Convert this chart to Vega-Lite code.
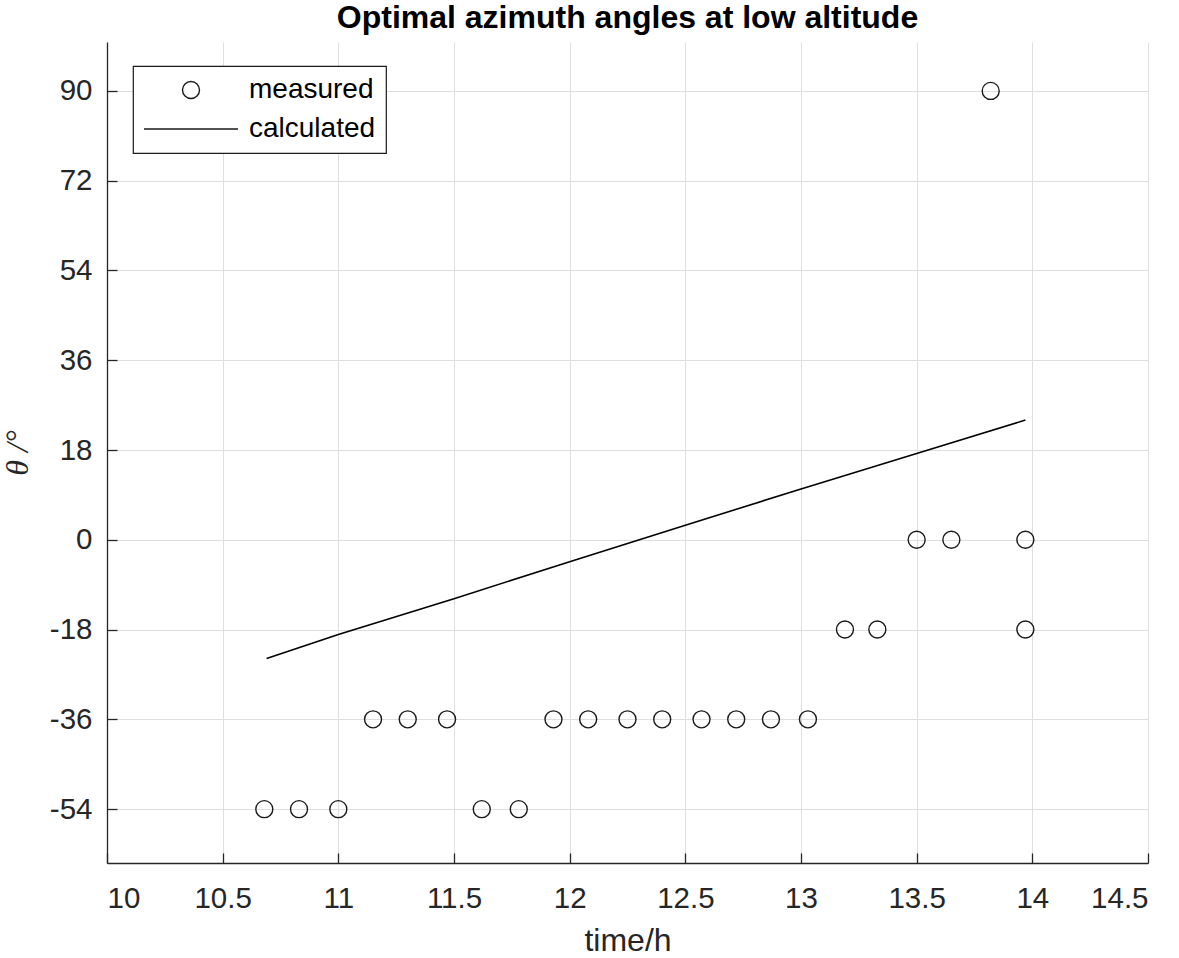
{
  "$schema": "https://vega.github.io/schema/vega-lite/v6.json",
  "autosize": "none",
  "width": 1041,
  "height": 821,
  "padding": {"left": 107, "top": 42, "right": 31, "bottom": 95},
  "background": "white",
  "title": {
    "text": "Optimal azimuth angles at low altitude",
    "font": "Liberation Sans",
    "fontSize": 32,
    "fontWeight": "bold",
    "color": "black",
    "anchor": "middle",
    "offset": 7
  },
  "datasets": {
    "measured": [
      {"time": 10.68, "theta": -54, "series": "measured"},
      {"time": 10.83, "theta": -54, "series": "measured"},
      {"time": 11.0, "theta": -54, "series": "measured"},
      {"time": 11.15, "theta": -36, "series": "measured"},
      {"time": 11.3, "theta": -36, "series": "measured"},
      {"time": 11.47, "theta": -36, "series": "measured"},
      {"time": 11.62, "theta": -54, "series": "measured"},
      {"time": 11.78, "theta": -54, "series": "measured"},
      {"time": 11.93, "theta": -36, "series": "measured"},
      {"time": 12.08, "theta": -36, "series": "measured"},
      {"time": 12.25, "theta": -36, "series": "measured"},
      {"time": 12.4, "theta": -36, "series": "measured"},
      {"time": 12.57, "theta": -36, "series": "measured"},
      {"time": 12.72, "theta": -36, "series": "measured"},
      {"time": 12.87, "theta": -36, "series": "measured"},
      {"time": 13.03, "theta": -36, "series": "measured"},
      {"time": 13.19, "theta": -18, "series": "measured"},
      {"time": 13.33, "theta": -18, "series": "measured"},
      {"time": 13.5, "theta": 0, "series": "measured"},
      {"time": 13.65, "theta": 0, "series": "measured"},
      {"time": 13.82, "theta": 90, "series": "measured"},
      {"time": 13.97, "theta": 0, "series": "measured"},
      {"time": 13.97, "theta": -18, "series": "measured"}
    ],
    "calculated": [
      {"time": 10.69, "theta": -23.8},
      {"time": 11.0, "theta": -19.0},
      {"time": 11.5, "theta": -11.8},
      {"time": 12.0, "theta": -4.4},
      {"time": 12.5, "theta": 2.9},
      {"time": 13.0, "theta": 10.2},
      {"time": 13.5, "theta": 17.3},
      {"time": 13.97, "theta": 24.0}
    ]
  },
  "layer": [
    {
      "data": {"name": "calculated"},
      "mark": {"type": "line", "color": "black", "strokeWidth": 1.6},
      "encoding": {
        "x": {"field": "time", "type": "quantitative"},
        "y": {"field": "theta", "type": "quantitative"}
      }
    },
    {
      "data": {"name": "measured"},
      "mark": {"type": "point", "filled": false, "color": "#1a1a1a", "strokeWidth": 1.4, "opacity": 1},
      "encoding": {
        "x": {
          "field": "time",
          "type": "quantitative",
          "scale": {"domain": [10, 14.5], "nice": false, "zero": false},
          "axis": {
            "title": "time/h",
            "values": [10, 10.5, 11, 11.5, 12, 12.5, 13, 13.5, 14, 14.5],
            "labelExpr": "'' + datum.value"
          }
        },
        "y": {
          "field": "theta",
          "type": "quantitative",
          "scale": {"domain": [-64.8, 99.8], "nice": false, "zero": false},
          "axis": {
            "title": "θ /°",
            "values": [-54, -36, -18, 0, 18, 36, 54, 72, 90],
            "labelExpr": "'' + datum.value"
          }
        },
        "shape": {
          "field": "series",
          "type": "nominal",
          "scale": {"domain": ["measured", "calculated"], "range": ["circle", "M-1,0L1,0"]},
          "legend": {"title": null}
        },
        "size": {
          "field": "series",
          "type": "nominal",
          "scale": {"type": "ordinal", "domain": ["measured", "calculated"], "range": [289, 8836]},
          "legend": {"title": null}
        }
      }
    }
  ],
  "config": {
    "view": {"stroke": null},
    "axis": {
      "labelFont": "Liberation Sans",
      "labelFontSize": 29.5,
      "labelColor": "#262626",
      "titleFont": "Liberation Sans",
      "titleFontSize": 32,
      "titleFontWeight": "normal",
      "titleColor": "#262626",
      "domainColor": "#262626",
      "domainWidth": 1.3,
      "tickColor": "#262626",
      "tickSize": -10,
      "tickWidth": 1.3,
      "gridColor": "#dedede",
      "gridWidth": 1
    },
    "axisX": {"titlePadding": 13, "labelPadding": 31},
    "axisY": {"titleFont": "Liberation Serif", "titleFontStyle": "italic", "titlePadding": 15, "labelPadding": 25},
    "legend": {
      "orient": "none",
      "legendX": 26,
      "legendY": 24,
      "fillColor": "white",
      "strokeColor": "#1a1a1a",
      "strokeWidth": 1.2,
      "padding": 10,
      "clipHeight": 28,
      "labelFont": "Liberation Sans",
      "labelFontSize": 28,
      "labelColor": "black",
      "labelOffset": 10,
      "symbolStrokeColor": "#1a1a1a",
      "symbolStrokeWidth": 1.4,
      "symbolFillColor": "transparent",
      "rowPadding": 11
    }
  }
}
